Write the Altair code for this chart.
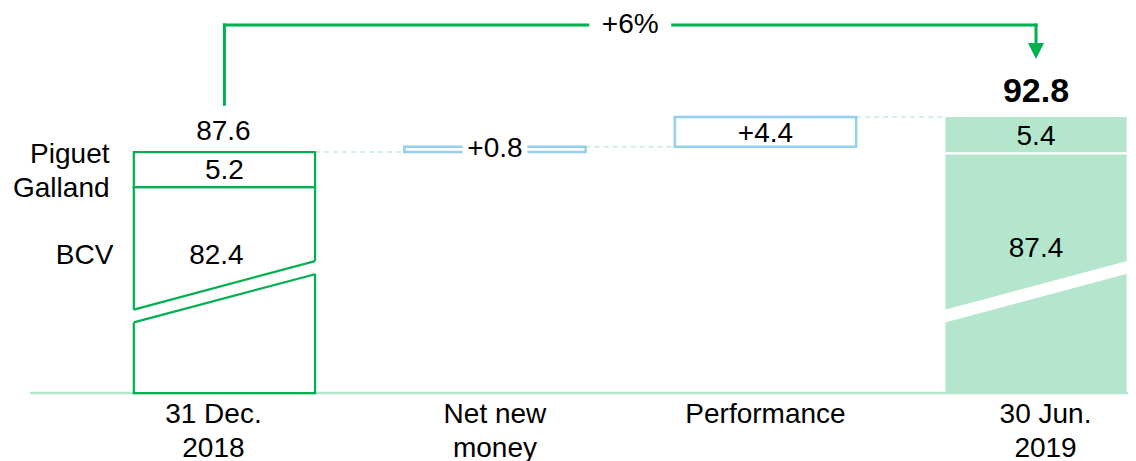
import altair as alt
import pandas as pd

# ---------------- data ----------------
categories = ["31 Dec.\n2018", "Net new\nmoney", "Performance", "30 Jun.\n2019"]
segment_names = ["Piguet\nGalland", "BCV"]
start_values = [5.2, 82.4]      # Piguet Galland, BCV  (31 Dec. 2018)
start_total = 87.6
flow_values = [0.8, 4.4]        # Net new money, Performance
flow_labels = ["+0.8", "+4.4"]
end_values = [5.4, 87.4]        # Piguet Galland, BCV  (30 Jun. 2019)
end_total = 92.8
growth_label = "+6%"

# ---------------- layout ----------------
W, H = 1120, 453
FLOOR = 51.8            # value at the baseline (broken axis)
Y_TOP = 109.0
PX_PER_UNIT = 6.732
X_MIN, X_MAX = -0.8, 3.34
HALF = 0.335
BREAK_UP = (64.2, 71.4)
BREAK_LO = (62.3, 69.45)
ARROW_Y = 106.48
ARROW_START = 94.7
ARROW_HEAD = 102.6
GAP = 0.157

GREEN = "#00b050"
MINT = "#b3e6cc"
BLUE = "#92cff0"
DASH = "#c6ecdb"
FONT = "Liberation Sans"
FS = 28

xs = alt.Scale(domain=[X_MIN, X_MAX], nice=False, zero=False)
ys = alt.Scale(domain=[Y_TOP - H / PX_PER_UNIT, Y_TOP], nice=False, zero=False)


def X(f):
    return alt.X(f, type="quantitative", scale=xs, axis=None)


def Y(f):
    return alt.Y(f, type="quantitative", scale=ys, axis=None)


def rects(rows, **kw):
    return alt.Chart(pd.DataFrame(rows)).mark_rect(**kw).encode(
        x=X("x"), x2=alt.X2("x2"), y=Y("y"), y2=alt.Y2("y2"))


def rules(rows, **kw):
    return alt.Chart(pd.DataFrame(rows)).mark_rule(**kw).encode(
        x=X("x"), x2=alt.X2("x2"), y=Y("y"), y2=alt.Y2("y2"))


def text(rows, **kw):
    base = dict(font=FONT, fontSize=FS, color="black", baseline="alphabetic",
                align="center", lineBreak="\n", lineHeight=34)
    base.update(kw)
    return alt.Chart(pd.DataFrame(rows)).mark_text(**base).encode(
        x=X("x"), y=Y("y"), text="t:N")


layers = []

# baseline
layers.append(rules([{"x": -0.719, "x2": X_MAX, "y": FLOOR, "y2": FLOOR}],
                    color=MINT, strokeWidth=2.5))

# dashed connectors
conn_levels = [start_total, start_total + flow_values[0], end_total]
layers.append(rules([{"x": i + HALF, "x2": i + 1 - HALF, "y": v, "y2": v}
                     for i, v in enumerate(conn_levels)],
                    color=DASH, strokeWidth=1.5, strokeDash=[5, 4]))

# start bar (outline)
pg0, bcv0 = start_values
layers.append(rects([{"x": -HALF, "x2": HALF, "y": FLOOR, "y2": bcv0},
                     {"x": -HALF, "x2": HALF, "y": bcv0, "y2": bcv0 + pg0}],
                    fill="white", stroke=GREEN, strokeWidth=2.2))

# flow bars (outline)
lvl = start_total
flow_rows = []
for i, v in enumerate(flow_values):
    flow_rows.append({"x": i + 1 - HALF, "x2": i + 1 + HALF, "y": lvl, "y2": lvl + v})
    lvl += v
layers.append(rects(flow_rows, fill="white", stroke=BLUE, strokeWidth=2.5))

# end bar (filled)
pg1, bcv1 = end_values
layers.append(rects([{"x": 3 - HALF, "x2": 3 + HALF, "y": FLOOR, "y2": bcv1},
                     {"x": 3 - HALF, "x2": 3 + HALF, "y": bcv1, "y2": bcv1 + pg1}],
                    fill=MINT, strokeWidth=0))
layers.append(rules([{"x": 3 - HALF - 0.01, "x2": 3 + HALF + 0.01, "y": bcv1, "y2": bcv1}],
                    color="white", strokeWidth=2.2))

# axis breaks (white band)
eps = 0.012
slope = (BREAK_UP[1] - BREAK_UP[0]) / (2 * HALF)
band_rows = []
for c in (0, 3):
    for sx in (-1, 1):
        xe = c + sx * (HALF + eps)
        d = sx * (HALF + eps) + HALF
        band_rows.append({"bar": c, "x": xe,
                          "top": BREAK_UP[0] + slope * d,
                          "bot": BREAK_LO[0] + slope * d})
layers.append(alt.Chart(pd.DataFrame(band_rows)).mark_area(
    color="white", orient="vertical", interpolate="linear").encode(
    x=X("x"), y=Y("top"), y2=alt.Y2("bot"), detail="bar:N"))

# diagonal break edges on the outlined start bar
layers.append(rules([{"x": -HALF, "x2": HALF, "y": BREAK_UP[0], "y2": BREAK_UP[1]},
                     {"x": -HALF, "x2": HALF, "y": BREAK_LO[0], "y2": BREAK_LO[1]}],
                    color=GREEN, strokeWidth=2.2))

# white box behind the +0.8 label
nn_mid = start_total + flow_values[0] / 2
layers.append(rects([{"x": 1 - 0.12, "x2": 1 + 0.12, "y": nn_mid - 0.7, "y2": nn_mid + 0.7}],
                    fill="white", strokeWidth=0))

# growth arrow
layers.append(rules([{"x": 0, "x2": 0, "y": ARROW_START, "y2": ARROW_Y},
                     {"x": 0, "x2": 1.5 - GAP, "y": ARROW_Y, "y2": ARROW_Y},
                     {"x": 1.5 + GAP, "x2": 3, "y": ARROW_Y, "y2": ARROW_Y},
                     {"x": 3, "x2": 3, "y": ARROW_Y, "y2": ARROW_HEAD + 0.6}],
                    color=GREEN, strokeWidth=3, strokeCap="square"))
layers.append(alt.Chart(pd.DataFrame([{"x": 3, "y": ARROW_HEAD}])).mark_point(
    shape="M-1,-1L1,-1L0,1Z", size=256, filled=True, color=GREEN, opacity=1,
    strokeWidth=0).encode(x=X("x"), y=Y("y")))
layers.append(text([{"x": 1.5, "y": ARROW_Y, "t": growth_label}], baseline="middle"))

# value labels
layers.append(text([{"x": 0, "y": start_total, "t": f"{start_total:.1f}"}], dy=-12, dx=-1))
layers.append(text([{"x": 0, "y": bcv0 + pg0 / 2, "t": f"{pg0:.1f}"}], baseline="middle", dy=1.5))
layers.append(text([{"x": 0, "y": 71.0, "t": f"{bcv0:.1f}"}], dx=-8))
layers.append(text([{"x": 3, "y": bcv1 + pg1 / 2, "t": f"{pg1:.1f}"}], baseline="middle", dy=2))
layers.append(text([{"x": 3, "y": 72.05, "t": f"{bcv1:.1f}"}]))
layers.append(text([{"x": 3, "y": end_total, "t": f"{end_total:.1f}"}],
                   dy=-15, fontSize=34, fontWeight="bold"))
lvl = start_total
for i, (v, lab) in enumerate(zip(flow_values, flow_labels)):
    layers.append(text([{"x": i + 1, "y": lvl + v / 2, "t": lab}], baseline="middle",
                       dy=0 if i == 0 else 2))
    lvl += v

# segment names
layers.append(text([{"x": -0.4247, "y": 85.97, "t": segment_names[0]}], align="right"))
layers.append(text([{"x": -0.4107, "y": 71.0, "t": segment_names[1]}], align="right"))

# category labels
cat_dx = [-11, 0, 0, 9.5]
for i, c in enumerate(categories):
    layers.append(text([{"x": i, "y": FLOOR, "t": c}], dy=30, dx=cat_dx[i], lineHeight=33.5))

chart = alt.layer(*layers).properties(
    width=W, height=H, padding=0,
    autosize=alt.AutoSizeParams(type="none"),
).configure_view(stroke=None)

chart.save("out.html", embed_options={"renderer": "svg", "actions": False})
